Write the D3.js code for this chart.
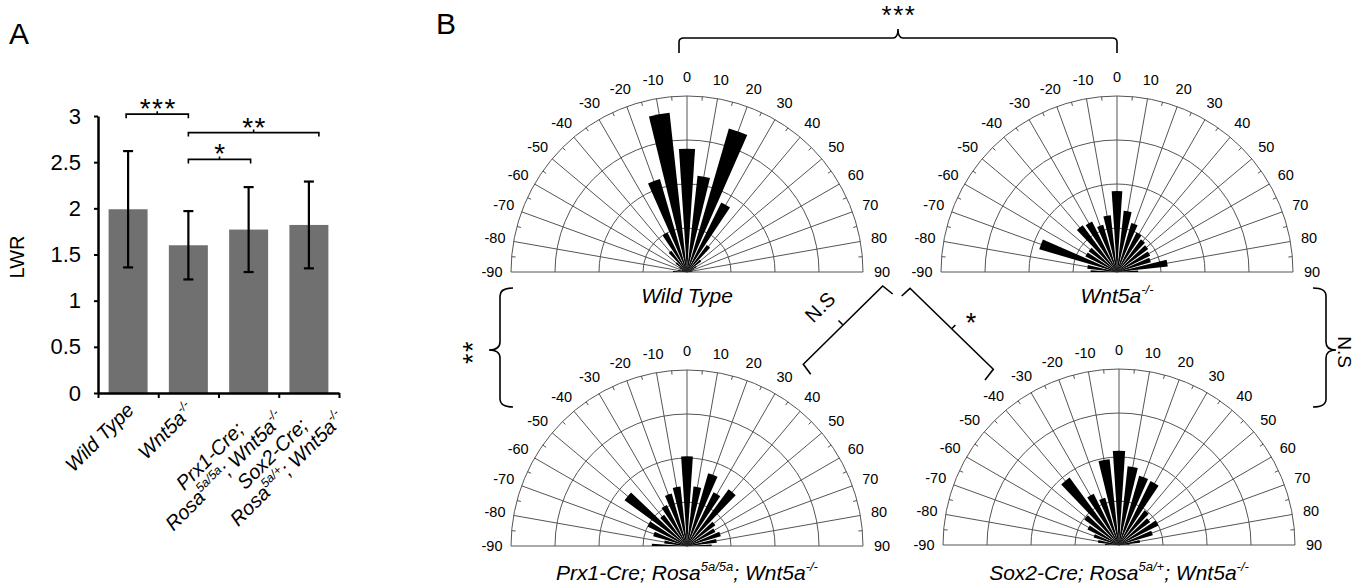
<!DOCTYPE html>
<html>
<head>
<meta charset="utf-8">
<script src="https://cdn.jsdelivr.net/npm/d3@7"></script>
<style>
  body { margin: 0; background: #fff; }
  svg { display: block; }
</style>
</head>
<body>
<script>
// ---------- data ----------
// Panel A: length/width ratio per genotype
var groups = ["wt", "wnt5a", "prx1", "sox2"];
var lwrMean = [1.99, 1.60, 1.77, 1.82];
var lwrSD = [0.63, 0.37, 0.46, 0.47];
var lwrTicks = [0, 0.5, 1, 1.5, 2, 2.5, 3];
// label lines, each a list of [text, superscript?]
var groupLabels = [
  [[["Wild Type", 0]]],
  [[["Wnt5a", 0], ["-/-", 1]]],
  [[["Prx1-Cre;", 0]], [["Rosa", 0], ["5a/5a", 1], ["; Wnt5a", 0], ["-/-", 1]]],
  [[["Sox2-Cre;", 0]], [["Rosa", 0], ["5a/+", 1], ["; Wnt5a", 0], ["-/-", 1]]]
];
// significance brackets in A: [from, to, level, stars, end offset]
var sigA = [
  [0, 1, 3.02, "***", 0],
  [1, 3, 2.82, "**", 10],
  [1, 2, 2.53, "*", 2]
];

// Panel B: rose plots, bins every 10 degrees (0 = up)
var roseAngles = [-90, -80, -70, -60, -50, -40, -30, -20, -10, 0, 10, 20, 30, 40, 50, 60, 70, 80, 90];
var ringLevels = [0.25, 0.5, 0.75, 1];
var wildTypeRose = [0.08, 0.05, 0.03, 0.05, 0.08, 0.15, 0.25, 0.55, 0.91, 0.70, 0.55, 0.85, 0.44, 0.19, 0.10, 0.06, 0.04, 0.03, 0.02];
var wnt5aRose    = [0.15, 0.17, 0.46, 0.20, 0.20, 0.33, 0.32, 0.28, 0.325, 0.46, 0.35, 0.29, 0.25, 0.23, 0.22, 0.21, 0.20, 0.29, 0.12];
var prx1Rose     = [0.20, 0.13, 0.20, 0.25, 0.44, 0.22, 0.26, 0.31, 0.34, 0.51, 0.34, 0.43, 0.34, 0.40, 0.20, 0.18, 0.20, 0.17, 0.14];
var sox2Rose     = [0.08, 0.12, 0.15, 0.20, 0.245, 0.475, 0.325, 0.28, 0.49, 0.535, 0.45, 0.41, 0.405, 0.245, 0.22, 0.25, 0.20, 0.12, 0.06];

var font = "'Liberation Sans', Arial, Helvetica, sans-serif";
var svg = d3.select("body").append("svg")
  .attr("width", 1356).attr("height", 588)
  .attr("font-family", font);

// text with superscript pieces
function rich(t, segs, size) {
  var up = false;
  segs.forEach(function(s) {
    var sup = s[1] === 1, dy = 0;
    if (sup && !up) dy = -0.42 * size;
    if (!sup && up) dy = 0.42 * size;
    up = sup;
    t.append("tspan").attr("dy", dy).attr("font-size", sup ? size * 0.62 : size).text(s[0]);
  });
  return t;
}

// ---------- Panel A ----------
svg.append("text").attr("x", 9).attr("y", 44).attr("font-size", 30).text("A");

var x = d3.scaleBand().domain(groups).range([98, 339]).paddingInner(0.353).paddingOuter(0.176);
var y = d3.scaleLinear().domain([0, 3]).range([393, 116]);
var xEdges = d3.scaleLinear().domain([0, groups.length]).range(x.range());
function cx(i) { return x(groups[i]) + x.bandwidth() / 2; }

var gA = svg.append("g");

gA.selectAll(".bar").data(lwrMean).enter().append("rect")
  .attr("class", "bar")
  .attr("x", function(d, i) { return x(groups[i]); })
  .attr("width", x.bandwidth())
  .attr("y", function(d) { return y(d); })
  .attr("height", function(d) { return y(0) - y(d); })
  .attr("fill", "#707070");

// error bars
var err = gA.selectAll(".err").data(lwrMean).enter().append("g").attr("class", "err")
  .attr("stroke", "#000").attr("stroke-width", 2.2);
err.append("line")
  .attr("x1", function(d, i) { return cx(i); }).attr("x2", function(d, i) { return cx(i); })
  .attr("y1", function(d, i) { return y(d + lwrSD[i]); })
  .attr("y2", function(d, i) { return y(d - lwrSD[i]); });
[1, -1].forEach(function(sgn) {
  err.append("line")
    .attr("x1", function(d, i) { return cx(i) - 5; }).attr("x2", function(d, i) { return cx(i) + 5; })
    .attr("y1", function(d, i) { return y(d + sgn * lwrSD[i]); })
    .attr("y2", function(d, i) { return y(d + sgn * lwrSD[i]); });
});

// axes
var yAxis = gA.append("g").attr("transform", "translate(98,0)")
  .call(d3.axisLeft(y).tickValues(lwrTicks).tickSize(4).tickSizeOuter(0).tickPadding(13)
    .tickFormat(d3.format("")));
yAxis.select(".domain").attr("stroke-width", 2.5);
yAxis.selectAll(".tick line").attr("stroke-width", 2);
yAxis.selectAll("text").attr("font-size", 22).attr("font-family", font).attr("fill", "#000");

var xAxis = gA.append("g").attr("transform", "translate(0,393)")
  .call(d3.axisBottom(xEdges).tickValues([0, 1, 2, 3, 4]).tickSize(5).tickSizeOuter(0).tickFormat(""));
xAxis.select(".domain").attr("stroke-width", 2.5);
xAxis.selectAll(".tick line").attr("stroke-width", 2);

svg.append("text")
  .attr("transform", "translate(24,257) rotate(-90)")
  .attr("text-anchor", "middle").attr("font-size", 20).text("LWR");

// rotated category labels
groupLabels.forEach(function(lines, i) {
  var g = svg.append("g")
    .attr("transform", "translate(" + cx(i) + ",400) rotate(-45)")
    .attr("font-style", "italic");
  var texts = lines.map(function(segs) {
    return rich(g.append("text").attr("text-anchor", "middle"), segs, 20);
  });
  var wMax = d3.max(texts, function(t) { return t.node().getComputedTextLength(); });
  var a = lines.length > 1 ? 12 : -3;
  var p0 = lines.length > 1 ? 12 : 6;
  texts.forEach(function(t, k) {
    t.attr("x", -wMax / 2 + a).attr("y", p0 + k * 21 + 7);
  });
});

// significance brackets
sigA.forEach(function(s) {
  var x1 = cx(s[0]) - (s[0] === 0 ? 2 : 0), x2 = cx(s[1]) + s[4], yl = y(s[2]);
  var xm = (x1 + x2) / 2;
  svg.append("path")
    .attr("d", "M" + x1 + "," + (yl + 4) + "V" + yl + "H" + x2 + "V" + (yl + 4) +
      "M" + xm + "," + yl + "V" + (yl - 3))
    .attr("fill", "none").attr("stroke", "#000").attr("stroke-width", 1.6);
  svg.append("text").attr("x", xm + 1).attr("y", yl + 4).attr("text-anchor", "middle")
    .attr("font-size", 28).attr("letter-spacing", 1.5).text(s[3]);
});

// ---------- Panel B ----------
svg.append("text").attr("x", 436).attr("y", 34).attr("font-size", 30).text("B");

var R = 176;
var r = d3.scaleLinear().domain([0, 1]).range([0, R]);
var toRad = Math.PI / 180;
var halfBin = 3.75;
var wedge = d3.arc().innerRadius(0);

function rose(px, py, values, title, titleDy) {
  var g = svg.append("g").attr("transform", "translate(" + px + "," + py + ")");
  var grid = g.append("g").attr("fill", "none").attr("stroke", "#555").attr("stroke-width", 1);
  ringLevels.forEach(function(lv) {
    var p = d3.path();
    p.arc(0, 0, r(lv), -Math.PI, 0);
    grid.append("path").attr("d", p.toString());
  });
  roseAngles.forEach(function(a) {
    grid.append("line").attr("x1", 0).attr("y1", 0)
      .attr("x2", R * Math.sin(a * toRad)).attr("y2", -R * Math.cos(a * toRad));
  });
  // minor ticks on the outer arc
  roseAngles.slice(0, -1).forEach(function(a) {
    var m = (a + 5) * toRad;
    grid.append("line")
      .attr("x1", R * Math.sin(m)).attr("y1", -R * Math.cos(m))
      .attr("x2", (R - 4) * Math.sin(m)).attr("y2", -(R - 4) * Math.cos(m));
  });
  // bars
  g.selectAll(".wedge").data(values).enter().append("path")
    .attr("class", "wedge")
    .attr("fill", "#000")
    .attr("d", function(v, i) {
      var a = roseAngles[i];
      return wedge({
        outerRadius: r(v),
        startAngle: Math.max(-90, a - halfBin) * toRad,
        endAngle: Math.min(90, a + halfBin) * toRad
      });
    });
  // angle labels
  g.selectAll(".alab").data(roseAngles).enter().append("text")
    .attr("class", "alab")
    .attr("x", function(a) { return (R + 19) * Math.sin(a * toRad); })
    .attr("y", function(a) { return -(R + 19) * Math.cos(a * toRad); })
    .attr("dy", "0.35em")
    .attr("text-anchor", "middle")
    .attr("font-size", 14.5)
    .text(function(a) { return a; });
  rich(g.append("text").attr("x", 0).attr("y", titleDy).attr("text-anchor", "middle")
    .attr("font-style", "italic"), title, 21);
}

rose(687, 272, wildTypeRose, [["Wild Type", 0]], 31);
rose(1117, 272, wnt5aRose, [["Wnt5a", 0], ["-/-", 1]], 31);
rose(687, 546, prx1Rose, [["Prx1-Cre; Rosa", 0], ["5a/5a", 1], ["; Wnt5a", 0], ["-/-", 1]], 34);
rose(1119, 545, sox2Rose, [["Sox2-Cre; Rosa", 0], ["5a/+", 1], ["; Wnt5a", 0], ["-/-", 1]], 35);

// comparison brackets between rose plots
var br = svg.append("g").attr("fill", "none").attr("stroke", "#000").attr("stroke-width", 1.6);
br.append("path").attr("d",
  "M679,53 V42 Q679,38 684,38 H893 Q898,38 898,29 Q898,38 903,38 H1112 Q1117,38 1117,42 V53");
br.append("path").attr("d",
  "M513,288 Q500,288 500,296 V342 Q500,350 489,350 Q500,350 500,358 V399 Q500,407 513,407");
br.append("path").attr("d",
  "M1313,288 Q1326,288 1326,296 V342 Q1326,350 1336,350 Q1326,350 1326,358 V399 Q1326,407 1313,407");
br.append("path").attr("d", "M892.7,294 L882.7,286 L803.3,364.3 L810.7,374.3 M842.5,324.5 L838.5,320.5");
br.append("path").attr("d", "M901.7,296 L910,288.3 L993.3,369.3 L985,380 M951.7,328.8 L955.4,325");

svg.append("text").attr("x", 899).attr("y", 24).attr("text-anchor", "middle")
  .attr("font-size", 26).attr("letter-spacing", 1.5).text("***");
svg.append("text").attr("transform", "translate(482,352) rotate(-90)")
  .attr("text-anchor", "middle").attr("font-size", 27).attr("letter-spacing", 1.5).text("**");
svg.append("text").attr("transform", "translate(1338,352) rotate(90)")
  .attr("text-anchor", "middle").attr("font-size", 19).text("N.S");
svg.append("text").attr("transform", "translate(825,312) rotate(-45)")
  .attr("text-anchor", "middle").attr("font-size", 20).text("N.S");
svg.append("text").attr("x", 971).attr("y", 332).attr("text-anchor", "middle")
  .attr("font-size", 27).text("*");
</script>
</body>
</html>
